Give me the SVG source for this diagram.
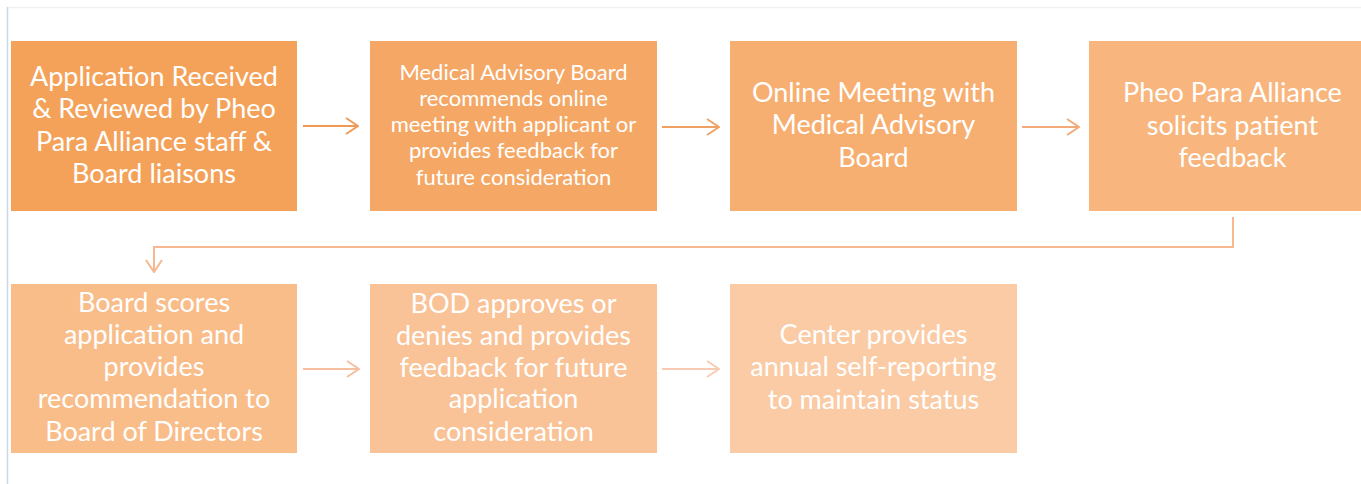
<svg xmlns="http://www.w3.org/2000/svg" width="1361" height="484" viewBox="0 0 1361 484">
<style>
  .t { font-family: Lato, "Liberation Sans", sans-serif; fill: #ffffff; text-anchor: middle; }
  .big { font-size: 27px; }
  .small { font-size: 22px; }
  .arr { fill: none; stroke-width: 2; }
</style>
<defs>
  <marker id="chev" viewBox="0 0 14 18" refX="13" refY="9" markerWidth="14" markerHeight="18" markerUnits="userSpaceOnUse" orient="auto">
    <path d="M1,1 L13,9 L1,17" fill="none" stroke="context-stroke" stroke-width="2"/>
  </marker>
</defs>
<rect width="1361" height="484" fill="#ffffff"/>
<line x1="7" y1="7.5" x2="1361" y2="7.5" stroke="#EFF1F3" stroke-width="1.5"/>
<line x1="7.5" y1="7" x2="7.5" y2="484" stroke="#C9D8EB" stroke-width="1.5"/>

<g id="connectors">
  <path class="arr" d="M303,126 H358" stroke="#EE9A56" marker-end="url(#chev)"/>
  <path class="arr" d="M662,127 H719" stroke="#F0A266" marker-end="url(#chev)"/>
  <path class="arr" d="M1022,127 H1079" stroke="#F2AB78" marker-end="url(#chev)"/>
  <path class="arr" d="M1233,217 V247 H154 V272" stroke="#F5B890" marker-end="url(#chev)"/>
  <path class="arr" d="M303,369 H359" stroke="#F6BFA0" marker-end="url(#chev)"/>
  <path class="arr" d="M662,369 H719" stroke="#F8CCB4" marker-end="url(#chev)"/>
</g>

<g id="node1">
  <rect x="11" y="41" width="286" height="170" fill="#F4A25A"/>
  <text class="t big"><tspan x="154" y="86">Application Received</tspan><tspan x="154" y="118">&amp; Reviewed by Pheo</tspan><tspan x="154" y="151">Para Alliance staff &amp;</tspan><tspan x="154" y="183">Board liaisons</tspan></text>
</g>
<g id="node2">
  <rect x="370" y="41" width="287" height="170" fill="#F5A866"/>
  <text class="t small"><tspan x="513.5" y="80">Medical Advisory Board</tspan><tspan x="513.5" y="106">recommends online</tspan><tspan x="513.5" y="132">meeting with applicant or</tspan><tspan x="513.5" y="158">provides feedback for</tspan><tspan x="513.5" y="185">future consideration</tspan></text>
</g>
<g id="node3">
  <rect x="730" y="41" width="287" height="170" fill="#F7AF71"/>
  <text class="t big"><tspan x="873.5" y="102">Online Meeting with</tspan><tspan x="873.5" y="134">Medical Advisory</tspan><tspan x="873.5" y="167">Board</tspan></text>
</g>
<g id="node4">
  <rect x="1089" y="41" width="287" height="170" fill="#F8B67E"/>
  <text class="t big"><tspan x="1232.5" y="102">Pheo Para Alliance</tspan><tspan x="1232.5" y="135">solicits patient</tspan><tspan x="1232.5" y="167">feedback</tspan></text>
</g>
<g id="node5">
  <rect x="11" y="284" width="286" height="169" fill="#F9BD8A"/>
  <text class="t big"><tspan x="154" y="312">Board scores</tspan><tspan x="154" y="344">application and</tspan><tspan x="154" y="376">provides</tspan><tspan x="154" y="408">recommendation to</tspan><tspan x="154" y="441">Board of Directors</tspan></text>
</g>
<g id="node6">
  <rect x="370" y="284" width="287" height="169" fill="#F9C397"/>
  <text class="t big"><tspan x="513.5" y="313">BOD approves or</tspan><tspan x="513.5" y="345">denies and provides</tspan><tspan x="513.5" y="377">feedback for future</tspan><tspan x="513.5" y="408">application</tspan><tspan x="513.5" y="441">consideration</tspan></text>
</g>
<g id="node7">
  <rect x="730" y="284" width="287" height="169" fill="#FACBA5"/>
  <text class="t big"><tspan x="873.5" y="344">Center provides</tspan><tspan x="873.5" y="376">annual self-reporting</tspan><tspan x="873.5" y="409">to maintain status</tspan></text>
</g>
</svg>
